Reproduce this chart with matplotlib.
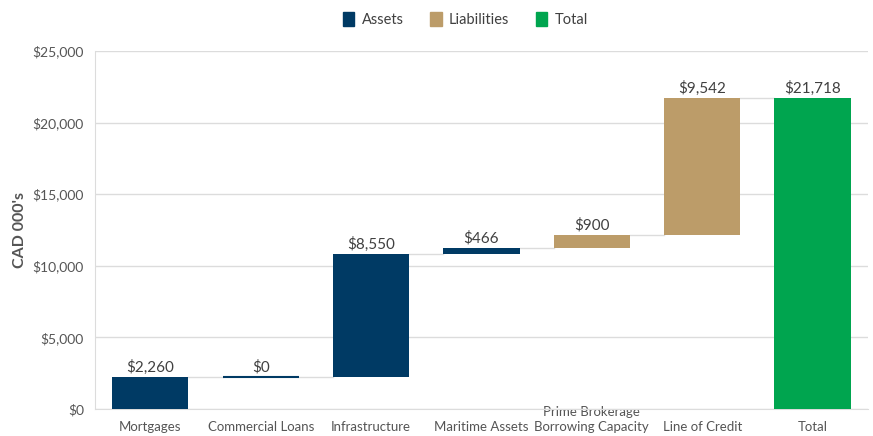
import matplotlib.pyplot as plt
from matplotlib.patches import Patch

categories = ["Mortgages", "Commercial Loans", "Infrastructure", "Maritime Assets",
              "Prime Brokerage\nBorrowing Capacity", "Line of Credit", "Total"]
values = [2260, 0, 8550, 466, 900, 9542, 21718]
kinds = ["Assets", "Assets", "Assets", "Assets", "Liabilities", "Liabilities", "Total"]
yticks = [0, 5000, 10000, 15000, 20000, 25000]

colors = {"Assets": "#003A64", "Liabilities": "#BC9C69", "Total": "#00A54F"}
grid_c = "#DCDCDC"
text_c = "#555555"

plt.rcParams['font.family'] = ['Lato', 'DejaVu Sans']

fig = plt.figure(figsize=(8.73, 4.36), dpi=100)
ax = fig.add_axes([0.109, 0.062, 0.885, 0.821])

# waterfall bottoms
bottoms = []
running = 0
for v, k in zip(values, kinds):
    if k == "Total":
        bottoms.append(0)
    else:
        bottoms.append(running)
        running += v

x = list(range(len(categories)))
width = 0.69
for i, (v, b, k) in enumerate(zip(values, bottoms, kinds)):
    ax.bar(i, v, width, bottom=b, color=colors[k], edgecolor=colors[k],
           linewidth=1.5 if v == 0 else 0, zorder=3)
    ax.text(i, b + v + 150, f"${v:,}", ha="center", va="bottom",
            fontsize=11, color="#404040", zorder=4)

# connector lines
for i in range(len(values) - 1):
    top = bottoms[i] + values[i]
    ax.plot([i + width / 2, i + 1 - width / 2], [top, top], color=grid_c,
            lw=1, zorder=2)

ax.set_xlim(-0.5, len(categories) - 0.5)
ax.set_ylim(0, 25000)
ax.set_yticks(yticks)
ax.set_yticklabels([f"${t:,}" for t in yticks], fontsize=10, color=text_c)
ax.set_xticks(x)
ax.set_xticklabels(categories, fontsize=9.5, color=text_c, va="bottom",
                   linespacing=1.25)
ax.tick_params(length=0)
ax.tick_params(axis="x", pad=17)
ax.tick_params(axis="y", pad=8)
for lab in ax.get_xticklabels():
    if "\n" in lab.get_text():
        lab.set_bbox(dict(facecolor="white", edgecolor="none", pad=1))
        lab.set_zorder(5)
ax.yaxis.grid(True, color=grid_c, lw=1, zorder=0)
for s in ["top", "right"]:
    ax.spines[s].set_visible(False)
for s in ["left", "bottom"]:
    ax.spines[s].set_color(grid_c)
ax.set_ylabel("CAD 000's", fontsize=11.5, color=text_c, fontweight="bold", labelpad=4)

handles = [Patch(color=colors[k]) for k in ["Assets", "Liabilities", "Total"]]
fig.legend(handles, ["Assets", "Liabilities", "Total"], loc="center",
           bbox_to_anchor=(0.533, 0.956), ncol=3, frameon=False, fontsize=10.5,
           handlelength=0.8, handleheight=1.1, columnspacing=1.8, handletextpad=0.5,
           labelcolor="#404040")

fig.savefig("out.png", dpi=100)
